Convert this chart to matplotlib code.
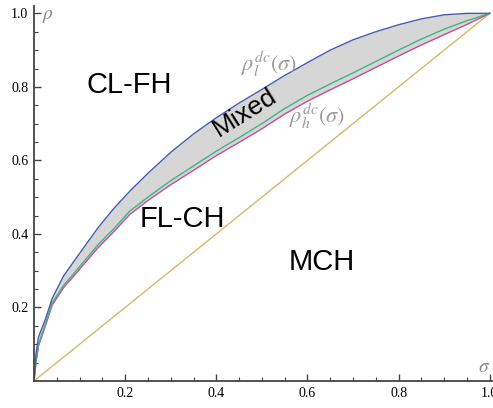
import matplotlib.pyplot as plt
import numpy as np

plt.rcParams['mathtext.fontset'] = 'stix'

# curve values
sigma = [0, 0.002, 0.005, 0.01, 0.025, 0.04, 0.065, 0.1, 0.14, 0.175, 0.21, 0.25, 0.3, 0.35,
         0.4, 0.45, 0.5, 0.55, 0.6, 0.65, 0.7, 0.75, 0.8, 0.85, 0.9, 0.95, 1.0]
rho_l = [0, 0.04, 0.08, 0.12, 0.168, 0.225, 0.286, 0.347, 0.416, 0.469, 0.516, 0.565, 0.622, 0.672,
         0.716, 0.756, 0.793, 0.831, 0.866, 0.9, 0.928, 0.95, 0.969, 0.985, 0.996, 1.0, 1.0]
rho_mid = [0, 0.022, 0.06, 0.1, 0.155, 0.213, 0.26, 0.311, 0.37, 0.414, 0.462, 0.500, 0.545, 0.585,
           0.625, 0.662, 0.70, 0.741, 0.777, 0.808, 0.838, 0.869, 0.90, 0.93, 0.957, 0.98, 1.0]
rho_h = [0, 0.02, 0.057, 0.096, 0.15, 0.207, 0.254, 0.304, 0.362, 0.406, 0.453, 0.491, 0.534, 0.573,
         0.613, 0.649, 0.686, 0.726, 0.761, 0.792, 0.822, 0.853, 0.884, 0.914, 0.942, 0.97, 1.0]
diag = [0, 1]

fig = plt.figure(figsize=(4.93, 4.08), dpi=100)
ax = fig.add_axes([34 / 493, 27 / 408, 458 / 493, 375 / 408])

ax.fill_between(sigma, rho_h, rho_l, color='#d6d6d6', lw=0)
ax.plot(diag, diag, color='#d9b76a', lw=1)
ax.plot(sigma, rho_h, color='#c8509a', lw=1)
ax.plot(sigma, rho_mid, color='#40b486', lw=1)
ax.plot(sigma, rho_l, color='#4a5aae', lw=1)

ax.set_xlim(0, 1.005)
ax.set_ylim(0, 1.02)
for s in ['top', 'right']:
    ax.spines[s].set_visible(False)
for s in ['left', 'bottom']:
    ax.spines[s].set_color('#444444')
    ax.spines[s].set_linewidth(1.3)

ax.set_xticks([0.2, 0.4, 0.6, 0.8, 1.0])
ax.set_yticks([0.2, 0.4, 0.6, 0.8, 1.0])
ax.set_xticks(np.arange(0.05, 1.0, 0.05), minor=True)
ax.set_yticks(np.arange(0.05, 1.0, 0.05), minor=True)
ax.set_xticklabels(['0.2', '0.4', '0.6', '0.8', '1.0'], family='Liberation Serif', fontsize=10)
ax.set_yticklabels(['0.2', '0.4', '0.6', '0.8', '1.0'], family='Liberation Serif', fontsize=10)
ax.tick_params(which='major', direction='in', length=5, width=1, color='#444444', pad=4)
ax.tick_params(which='minor', direction='in', length=3, width=0.8, color='#444444')

sans = 'Liberation Sans'
ax.text(0.21, 0.805, 'CL-FH', fontsize=21, family=sans, ha='center', va='center')
ax.text(0.325, 0.44, 'FL-CH', fontsize=21, family=sans, ha='center', va='center')
ax.text(0.632, 0.325, 'MCH', fontsize=21, family=sans, ha='center', va='center')
ax.text(0.463, 0.73, 'Mixed', fontsize=19, family=sans, ha='center', va='center', rotation=32)

ax.text(0.515, 0.86, r'$\rho_l^{dc}(\sigma)$', fontsize=16, color='#9a9a9a', ha='center', va='center')
ax.text(0.62, 0.72, r'$\rho_h^{dc}(\sigma)$', fontsize=16, color='#9a9a9a', ha='center', va='center')
ax.text(0.03, 0.995, r'$\rho$', fontsize=14, color='#888888', ha='center', va='center')
ax.text(0.987, 0.04, r'$\sigma$', fontsize=14, color='#888888', ha='center', va='center')

fig.savefig('out.png', dpi=100)
